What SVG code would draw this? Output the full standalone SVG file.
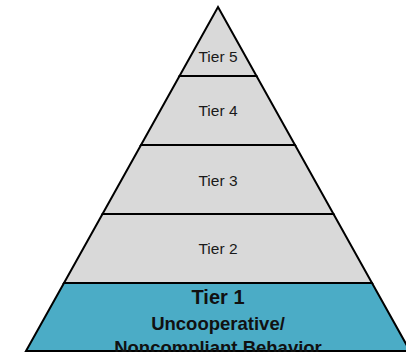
<svg xmlns="http://www.w3.org/2000/svg" width="406" height="352" viewBox="0 0 406 352">
<style>
.g{fill:#d9d9d9;stroke:#000;stroke-width:2;stroke-linejoin:miter}
.b{fill:#4bacc6;stroke:#000;stroke-width:2}
.t{font-family:"Liberation Sans",Arial,sans-serif;font-size:15.5px;fill:#1a1a1a;text-anchor:middle}
.h{font-family:"Liberation Sans",Arial,sans-serif;font-weight:bold;fill:#111;text-anchor:middle}
</style>
<rect width="406" height="352" fill="#fff"/>
<g id="tier1">
<polygon class="b" points="64,283 372,283 410,351 26,351"/>
<text class="h" x="218" y="304" font-size="20">Tier 1</text>
<text class="h" x="218" y="330" font-size="18.5">Uncooperative/</text>
<text class="h" x="218" y="354" font-size="18.5">Noncompliant Behavior</text>
</g>
<g id="tier2">
<polygon class="g" points="102.5,214 333.5,214 372,283 64,283"/>
<text class="t" x="218" y="254">Tier 2</text>
</g>
<g id="tier3">
<polygon class="g" points="141,145 295,145 333.5,214 102.5,214"/>
<text class="t" x="218" y="186">Tier 3</text>
</g>
<g id="tier4">
<polygon class="g" points="179.5,76 256.5,76 295,145 141,145"/>
<text class="t" x="218" y="116">Tier 4</text>
</g>
<g id="tier5">
<polygon class="g" points="218,7 256.5,76 179.5,76"/>
<text class="t" x="218" y="62">Tier 5</text>
</g>
</svg>
